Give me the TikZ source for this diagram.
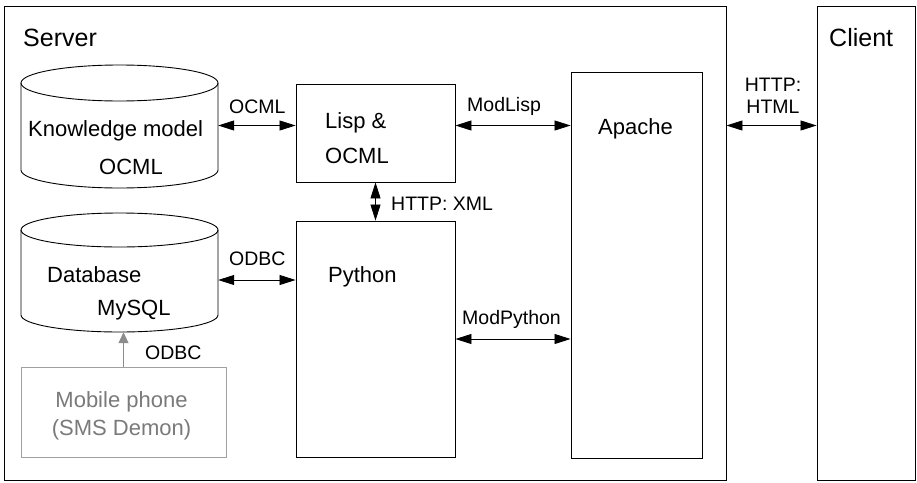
\documentclass[tikz,border=0pt]{standalone}
\usepackage{fontspec}
\setmainfont{Liberation Sans}
\usetikzlibrary{arrows.meta}
\definecolor{lgray}{HTML}{A0A0A0}
\definecolor{tgray}{HTML}{7A7A7A}
\definecolor{agray}{HTML}{8C8C8C}
\begin{document}
\begin{tikzpicture}[x=1pt,y=-1pt,
  box/.style={draw, line width=0.9pt, rectangle, inner sep=0pt},
  grid/.style={inner sep=0pt, draw=none},
  cyl/.style={draw, line width=0.9pt},
  big/.style={inner sep=0pt, anchor=base west, font=\fontsize{22}{26}\selectfont},
  small/.style={inner sep=0pt, anchor=base west, font=\fontsize{19.5}{23}\selectfont},
  title/.style={inner sep=0pt, anchor=base west, font=\fontsize{25}{30}\selectfont},
  biarrow/.style={{Triangle[length=16pt,width=10pt]}-{Triangle[length=16pt,width=10pt]}, line width=0.8pt},
  grayarrow/.style={-{Triangle[length=11pt,width=10pt]}, line width=0.8pt, draw=agray, fill=agray}
]
\useasboundingbox[fill=white] (0,0) rectangle (917,482);

% frames
\node[box, minimum width=722pt, minimum height=474pt] (server) at (365,243) {};
\node[box, minimum width=98pt, minimum height=474pt] (client) at (866,243) {};
\node[title] (srvt) at (23,46) {Server};
\node[title] (clit) at (829,46) {Client};

% cylinders (extent nodes)
\node[grid, minimum width=197pt, minimum height=123pt] (kb) at (119.5,125.5) {};
\node[grid, minimum width=197pt, minimum height=119pt] (db) at (119.5,272.5) {};

\draw[cyl] (21,83) -- (21,170) arc[start angle=180, end angle=360, x radius=98.5pt, y radius=18pt] -- (218,83);
\draw[cyl] (119.5,83) ellipse[x radius=98.5pt, y radius=18pt];
\draw[cyl] (21,230) -- (21,315) arc[start angle=180, end angle=360, x radius=98.5pt, y radius=17pt] -- (218,230);
\draw[cyl] (119.5,230) ellipse[x radius=98.5pt, y radius=17pt];

\node[big] (kbt) at (28,136) {Knowledge model};
\node[big] (kbo) at (99,174) {OCML};
\node[big] (dbt) at (47,282) {Database};
\node[big] (dbm) at (97,315) {MySQL};

% boxes
\node[box, minimum width=159pt, minimum height=98pt] (lisp) at (375.5,133) {};
\node[box, minimum width=159pt, minimum height=236pt] (python) at (375.5,339) {};
\node[box, minimum width=131pt, minimum height=386pt] (apache) at (636.5,265) {};
\node[box, draw=lgray, line width=0.9pt, minimum width=205pt, minimum height=90pt] (mobile) at (123.5,412) {};

\node[big] (lispt) at (325,128) {Lisp \&};
\node[big] (lispo) at (325,163) {OCML};
\node[big] (pyt) at (328,282) {Python};
\node[big] (apt) at (598,134) {Apache};
\node[big, anchor=base, text=tgray] (mob1) at (121.5,407) {Mobile phone};
\node[big, anchor=base, text=tgray] (mob2) at (121.5,435) {(SMS Demon)};

% connectors
\draw[biarrow] (kb.east) -- (kb.east -| lisp.west);
\draw[biarrow] (kb.east -| lisp.east) -- (kb.east -| apache.west);
\draw[biarrow] (kb.east -| server.east) -- (kb.east -| client.west);
\draw[biarrow] (lisp.south) -- (python.north);
\draw[biarrow] ([yshift=-7.5pt]db.east) -- ([yshift=-7.5pt]db.east -| python.west);
\draw[biarrow] (python.east) -- (python.east -| apache.west);
\draw[grayarrow] (mobile.north) -- (mobile.north |- db.south);

% connector labels
\node[small] (l1) at (229,113) {OCML};
\node[small] (l2) at (229,265) {ODBC};
\node[small] (l3) at (145,359) {ODBC};
\node[small] (l4) at (391,210) {HTTP: XML};
\node[small] (l5) at (467,111) {ModLisp};
\node[small] (l6) at (462,324) {ModPython};
\node[small, anchor=base] (l7) at (773,91) {HTTP:};
\node[small, anchor=base] (l8) at (773,113) {HTML};
\end{tikzpicture}
\end{document}
